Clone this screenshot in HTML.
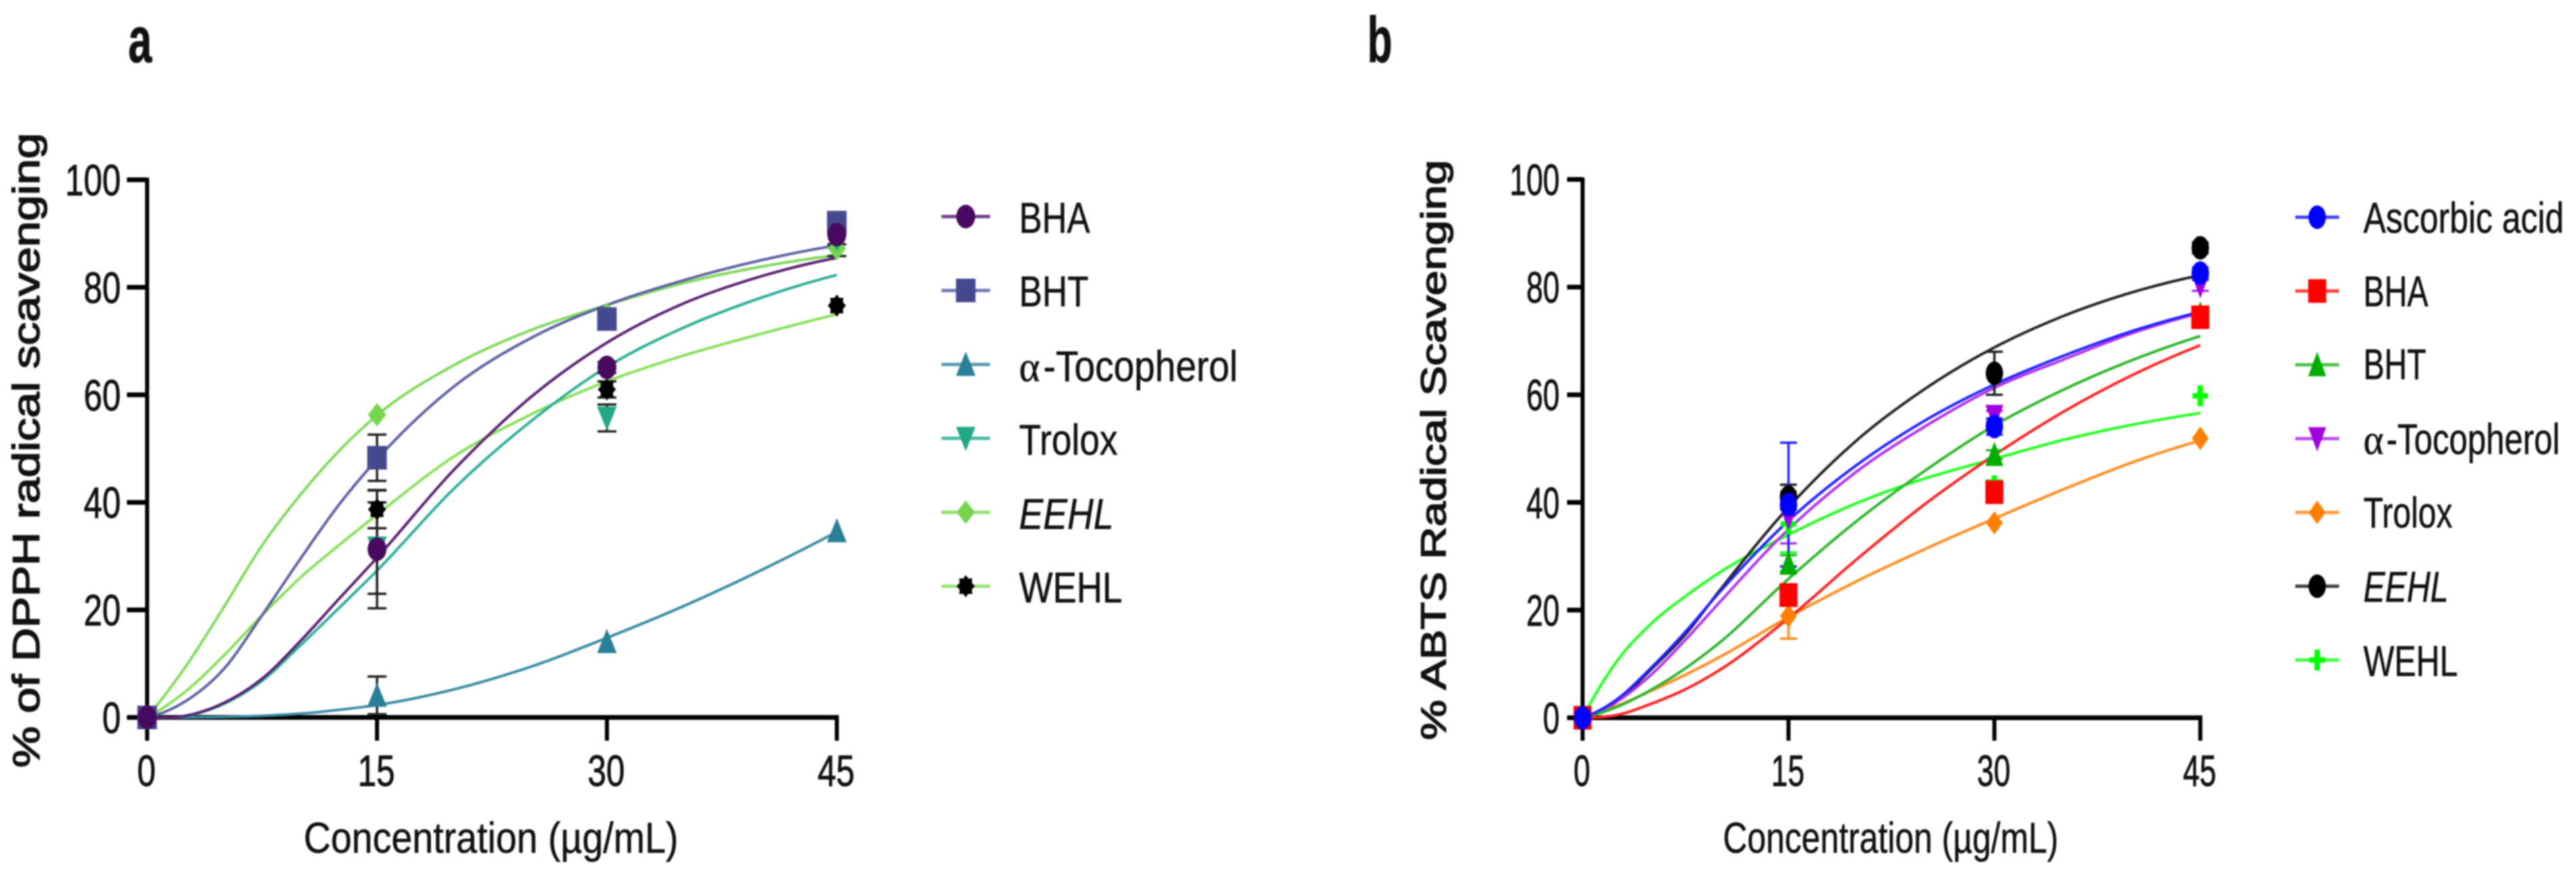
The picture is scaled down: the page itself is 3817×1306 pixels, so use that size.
<!DOCTYPE html>
<html lang="en">
<head>
<meta charset="utf-8">
<title>DPPH and ABTS radical scavenging charts</title>
<style>
html,body{margin:0;padding:0;background:#fff;width:3817px;height:1306px;overflow:hidden}
svg{display:block;filter:blur(1.1px)}
text{font-family:"Liberation Sans",sans-serif;fill:#111;stroke:#111;stroke-width:0.9px}
.legend-text,.axis-title{font-size:64px;stroke-width:0.6px}
.y-title{stroke-width:1.6px}
</style>
</head>
<body>
<svg id="chart" xmlns="http://www.w3.org/2000/svg" width="3817" height="1306" viewBox="0 0 3817 1306">
  <rect width="3817" height="1306" fill="#fff"/>
  <text x="190" y="92" font-size="96" font-weight="bold" textLength="35" lengthAdjust="spacingAndGlyphs">a</text>
  <text x="2026" y="92" font-size="96" font-weight="bold" textLength="37" lengthAdjust="spacingAndGlyphs">b</text>

  <text class="y-title" transform="translate(58,1138) rotate(-90)" font-size="56" textLength="941" lengthAdjust="spacingAndGlyphs">% of DPPH radical scavenging</text>
  <text class="axis-title" x="450" y="1264" textLength="555" lengthAdjust="spacingAndGlyphs">Concentration (µg/mL)</text>
  <text class="y-title" transform="translate(2142,1097) rotate(-90)" font-size="52" textLength="860" lengthAdjust="spacingAndGlyphs">% ABTS Radical Scavenging</text>
  <text class="axis-title" x="2553" y="1264" textLength="497" lengthAdjust="spacingAndGlyphs">Concentration (µg/mL)</text>

  <g id="panel-a"></g>
  <g id="panel-b"></g>

  <g id="legend-a">
    <text class="legend-text" x="1510" y="345" textLength="105" lengthAdjust="spacingAndGlyphs">BHA</text>
    <text class="legend-text" x="1510" y="454" textLength="103" lengthAdjust="spacingAndGlyphs">BHT</text>
    <text class="legend-text" x="1510" y="565" font-style="normal" style="font-family:'Liberation Serif',serif" textLength="31" lengthAdjust="spacingAndGlyphs">α</text>
    <text class="legend-text" x="1546" y="565" textLength="288" lengthAdjust="spacingAndGlyphs">-Tocopherol</text>
    <text class="legend-text" x="1510" y="674" textLength="146" lengthAdjust="spacingAndGlyphs">Trolox</text>
    <text class="legend-text" x="1510" y="784" font-style="italic" textLength="140" lengthAdjust="spacingAndGlyphs">EEHL</text>
    <text class="legend-text" x="1510" y="893" textLength="153" lengthAdjust="spacingAndGlyphs">WEHL</text>
  </g>
  <g id="legend-b">
    <text class="legend-text" x="3502" y="345" textLength="297" lengthAdjust="spacingAndGlyphs">Ascorbic acid</text>
    <text class="legend-text" x="3502" y="454" textLength="96" lengthAdjust="spacingAndGlyphs">BHA</text>
    <text class="legend-text" x="3502" y="562" textLength="93" lengthAdjust="spacingAndGlyphs">BHT</text>
    <text class="legend-text" x="3502" y="673" style="font-family:'Liberation Serif',serif" textLength="30" lengthAdjust="spacingAndGlyphs">α</text>
    <text class="legend-text" x="3536" y="673" textLength="257" lengthAdjust="spacingAndGlyphs">-Tocopherol</text>
    <text class="legend-text" x="3502" y="782" textLength="132" lengthAdjust="spacingAndGlyphs">Trolox</text>
    <text class="legend-text" x="3502" y="892" font-style="italic" textLength="126" lengthAdjust="spacingAndGlyphs">EEHL</text>
    <text class="legend-text" x="3502" y="1002" textLength="140" lengthAdjust="spacingAndGlyphs">WEHL</text>
  </g>
</svg>
<script>
// ---- shared axis data ----
const concentrationTicks = [0, 15, 30, 45];
const percentTicks = [0, 20, 40, 60, 80, 100];

// ---- panel a: fitted curve readings ----
const curveConcA = [0, 2.5, 5, 7.5, 10, 12.5, 15, 20, 25, 30, 35, 40, 45];
const bhaCurveA = [0, 0.3, 2.7, 7.2, 14.2, 22, 29.7, 46, 59.5, 69.7, 77, 82, 85.5];
const bhtCurveA = [0, 3, 9, 19, 29.5, 39.5, 48, 61.5, 70.5, 76.7, 81.3, 85, 87.8];
const tocCurveA = [0, 0, 0.1, 0.3, 0.7, 1.4, 2.3, 5.2, 9.4, 14.8, 20.7, 27.3, 34.5];
const troloxCurveA = [0, 0.2, 2.5, 6.8, 13.4, 20.3, 27.3, 42.5, 55, 65.2, 72.5, 78, 82.3];
const eehlCurveA = [0, 9.4, 20.5, 32, 41.4, 49.5, 56.2, 65.5, 72, 76.7, 80.8, 83.8, 86];
const wehlCurveA = [0, 4.8, 11.5, 19, 26, 32, 37.7, 48.5, 56.3, 62.5, 67.3, 71.3, 75];

// ---- panel a: measured points and error bars at concentrationTicks ----
const bhaPointsA = [0, 31.3, 65.1, 89.8];
const bhaErrorA = [0, 11, 1, 4];
const bhtPointsA = [0, 48.3, 74.1, 92];
const bhtErrorA = [0, 4.3, 1.5, 2];
const tocPointsA = [0, 4.1, 14.1, 34.7];
const tocErrorA = [0, 3.5, 0.5, 0.5];
const troloxPointsA = [0, 31.5, 55.7, 89];
const troloxErrorA = [0, 8.5, 2.5, 1];
const eehlPointsA = [0, 56.3, 75, 87.2];
const eehlErrorA = [0, 0.5, 0.5, 0.5];
const wehlPointsA = [0, 38.7, 61, 76.6];
const wehlErrorA = [0, 3.5, 1.5, 0.5];

// ---- panel b: fitted curve readings ----
const curveConcB = [0, 2.5, 5, 7.5, 10, 15, 20, 25, 30, 35, 40, 45];
const ascorbicCurveB = [0, 3.4, 9.3, 16, 23.4, 36.6, 47, 55.3, 61.9, 67.2, 71.8, 75.4];
const bhaCurveB = [0, 0.5, 2.6, 5.3, 8.9, 18.5, 29.5, 39.8, 48.8, 56.8, 63.6, 69.2];
const bhtCurveB = [0, 2, 5.2, 9.2, 14, 25.8, 36.6, 46, 54.3, 60.9, 66.4, 70.9];
const tocCurveB = [0, 3, 8, 14.5, 21.5, 35, 45.8, 54.2, 61.3, 66.5, 71.4, 75.2];
const troloxCurveB = [0, 2.2, 5, 8, 11.3, 18.7, 25.4, 31.4, 37, 42.4, 47.4, 51.5];
const eehlCurveB = [0, 3, 9, 15.5, 23.7, 39.1, 51.6, 61.2, 68.8, 74.6, 79, 82.2];
const wehlCurveB = [0, 10.5, 17.5, 22.6, 27, 34, 39.9, 44.5, 48.1, 51.6, 54.4, 56.6];

// ---- panel b: measured points and error bars ----
const ascorbicPointsB = [0, 39.6, 54.1, 82.6];
const ascorbicErrorB = [0, 11.5, 1.5, 1];
const bhaPointsB = [0, 22.8, 41.9, 74.4];
const bhaErrorB = [0, 2, 1.5, 1];
const bhtPointsB = [0, 28.7, 48.9, 75];
const bhtErrorB = [0, 1.5, 0.8, 1];
const tocPointsB = [0, 37.2, 56, 80.3];
const tocErrorB = [0, 4.8, 1, 1];
const troloxPointsB = [0, 18.9, 36.2, 51.9];
const troloxErrorB = [0, 4.2, 0.5, 0.5];
const eehlPointsB = [0, 41, 64, 87.3];
const eehlErrorB = [0, 2.3, 4, 1];
const wehlPointsB = [0, 36, 43.1, 59.8];
const wehlErrorB = [0, 5.3, 1, 0.5];

// ---- series definitions (legend order) ----
const seriesA = [
  {id:'bha', curve:bhaCurveA, points:bhaPointsA, error:bhaErrorA, line:'#5a1f73', fill:'#470a60', shape:'circle'},
  {id:'bht', curve:bhtCurveA, points:bhtPointsA, error:bhtErrorA, line:'#5c60a4', fill:'#454a8f', shape:'square'},
  {id:'tocopherol', curve:tocCurveA, points:tocPointsA, error:tocErrorA, line:'#3a8ca3', fill:'#2a7f97', shape:'up'},
  {id:'trolox', curve:troloxCurveA, points:troloxPointsA, error:troloxErrorA, line:'#2fae98', fill:'#22a884', shape:'down'},
  {id:'eehl', curve:eehlCurveA, points:eehlPointsA, error:eehlErrorA, line:'#7fd95c', fill:'#75d64e', shape:'diamond'},
  {id:'wehl', curve:wehlCurveA, points:wehlPointsA, error:wehlErrorA, line:'#86e05a', fill:'#000000', shape:'star'}
];
const seriesB = [
  {id:'ascorbic', curve:ascorbicCurveB, points:ascorbicPointsB, error:ascorbicErrorB, line:'#2222ff', fill:'#0000ff', shape:'circle'},
  {id:'bha', curve:bhaCurveB, points:bhaPointsB, error:bhaErrorB, line:'#ff2020', fill:'#ff0000', shape:'square'},
  {id:'bht', curve:bhtCurveB, points:bhtPointsB, error:bhtErrorB, line:'#2cb52c', fill:'#00ac00', shape:'up'},
  {id:'tocopherol', curve:tocCurveB, points:tocPointsB, error:tocErrorB, line:'#b030f0', fill:'#a000e0', shape:'down'},
  {id:'trolox', curve:troloxCurveB, points:troloxPointsB, error:troloxErrorB, line:'#ff8c20', fill:'#ff8000', shape:'diamond'},
  {id:'eehl', curve:eehlCurveB, points:eehlPointsB, error:eehlErrorB, line:'#222222', fill:'#000000', shape:'circle'},
  {id:'wehl', curve:wehlCurveB, points:wehlPointsB, error:wehlErrorB, line:'#20ff20', fill:'#00ff00', shape:'plus'}
];

const SVGNS = 'http://www.w3.org/2000/svg';
function make(tag, attrs, parent){
  const el = document.createElementNS(SVGNS, tag);
  for (const k in attrs) el.setAttribute(k, attrs[k]);
  parent.appendChild(el);
  return el;
}

// Smooth cubic path through pixel points, using parabolic (three-point) tangents
function smoothPath(px){
  const n = px.length, d = [], w = [], m = [];
  for (let i = 0; i < n - 1; i++){
    w.push(px[i+1][0]-px[i][0]);
    d.push((px[i+1][1]-px[i][1])/w[i]);
  }
  for (let i = 1; i < n - 1; i++) m[i] = (w[i-1]*d[i] + w[i]*d[i-1])/(w[i-1]+w[i]);
  m[0] = Math.min(0, d[0] + (d[0]-d[1])*w[0]/(w[0]+w[1]));
  m[n-1] = d[n-2] + (d[n-2]-d[n-3])*w[n-2]/(w[n-2]+w[n-3]);
  let s = 'M' + px[0][0].toFixed(1) + ' ' + px[0][1].toFixed(1);
  for (let i = 0; i < n - 1; i++){
    const h = w[i]/3;
    s += 'C' + (px[i][0]+h).toFixed(1) + ' ' + (px[i][1]+m[i]*h).toFixed(1) + ' ' +
         (px[i+1][0]-h).toFixed(1) + ' ' + (px[i+1][1]-m[i+1]*h).toFixed(1) + ' ' +
         px[i+1][0].toFixed(1) + ' ' + px[i+1][1].toFixed(1);
  }
  return s;
}

// Marker drawn around a centre point; k narrows markers horizontally for the narrower panel
function drawMarker(shape, cx, cy, color, k, parent){
  const w = 14.5*k, h = 17.5;
  if (shape === 'circle') return make('ellipse', {cx:cx, cy:cy, rx:14*k, ry:h, fill:color}, parent);
  if (shape === 'square') return make('rect', {x:cx-w, y:cy-h, width:2*w, height:2*h, fill:color}, parent);
  let pts;
  if (shape === 'up') pts = [[0,-19],[w,17],[-w,17]];
  else if (shape === 'down') pts = [[0,19],[w,-17],[-w,-17]];
  else if (shape === 'diamond') pts = [[0,-h],[13.5*k,0],[0,h],[-13.5*k,0]];
  else if (shape === 'plus'){
    const a = 4, b = 12.5*k, c = 15.5;
    pts = [[-a,-c],[a,-c],[a,-a],[b,-a],[b,a],[a,a],[a,c],[-a,c],[-a,a],[-b,a],[-b,-a],[-a,-a]];
  } else {
    pts = [];
    for (let i = 0; i < 16; i++){
      const t = i*Math.PI/8, r = i % 2 ? 0.74 : 1;
      pts.push([13.5*k*r*Math.sin(t), -16.5*r*Math.cos(t)]);
    }
  }
  return make('polygon', {points: pts.map(p => (cx+p[0]).toFixed(1)+','+(cy+p[1]).toFixed(1)).join(' '), fill:color}, parent);
}

function drawPanel(cfg){
  const root = document.getElementById(cfg.rootId);
  const sx = c => cfg.x0 + c*cfg.xUnit;
  const sy = v => cfg.y0 - v*cfg.yUnit;
  const tag = cfg.suffix;

  // axes
  const yAxis = make('line', {x1:sx(0), x2:sx(0), y1:sy(100)-3, y2:1098, stroke:'#000', 'stroke-width':6}, root);
  
  
  const xAxis = make('line', {x1:sx(0), x2:sx(45)+3, y1:sy(0), y2:sy(0), stroke:'#000', 'stroke-width':7}, root);
  
  

  percentTicks.forEach(v => {
    const tick = make('line', {x1:cfg.tickLeft, x2:sx(0), y1:sy(v), y2:sy(v), stroke:'#000', 'stroke-width':7}, root);
    
    
    const label = String(v);
    const t = make('text', {x:cfg.labelRight, y:sy(v)+23, 'text-anchor':'end', 'font-size':65, textLength:label.length*cfg.digit, lengthAdjust:'spacingAndGlyphs'}, root);
    t.textContent = label;
    
    
  });
  concentrationTicks.forEach(c => {
    const tick = make('line', {x1:sx(c), x2:sx(c), y1:sy(0), y2:1098, stroke:'#000', 'stroke-width':6}, root);
    
    
    const label = String(c);
    const t = make('text', {x:sx(c)-1, y:1165, 'text-anchor':'middle', 'font-size':65, textLength:label.length*cfg.digit, lengthAdjust:'spacingAndGlyphs'}, root);
    t.textContent = label;
    
    
  });

  const reversed = cfg.series.slice().reverse();

  // curves
  reversed.forEach(s => {
    const px = cfg.grid.map((c, i) => [sx(c), sy(s.curve[i])]);
    const p = make('path', {d:smoothPath(px), fill:'none', stroke:s.line, 'stroke-width':4}, root);
    
    
  });

  // error bars
  reversed.forEach(s => {
    concentrationTicks.forEach((c, i) => {
      if (!s.error[i] || s.error[i] < 0.8) return;
      const color = cfg.errorColor || s.line;
      const top = sy(s.points[i] + s.error[i]), bot = sy(s.points[i] - s.error[i]);
      const d = 'M' + sx(c) + ' ' + top + 'V' + bot +
        'M' + (sx(c)-cfg.cap) + ' ' + top + 'H' + (sx(c)+cfg.cap) +
        'M' + (sx(c)-cfg.cap) + ' ' + bot + 'H' + (sx(c)+cfg.cap);
      const e = make('path', {d:d, fill:'none', stroke:color, 'stroke-width':3.5}, root);
      
      
    });
  });

  // markers
  reversed.forEach(s => {
    concentrationTicks.forEach((c, i) => {
      const m = drawMarker(s.shape, sx(c), sy(s.points[i]), s.fill, cfg.markerK, root);
      
      
    });
  });

  // legend glyphs
  const legend = document.getElementById(cfg.legendId);
  cfg.series.forEach((s, i) => {
    const ly = cfg.legendTop + i*cfg.legendStep;
    const l = make('line', {x1:cfg.legendX1, x2:cfg.legendX2, y1:ly, y2:ly, stroke:s.line, 'stroke-width':5, 'stroke-opacity':0.85}, legend);
    
    
    const mk = drawMarker(s.shape, (cfg.legendX1+cfg.legendX2)/2, ly, s.fill, cfg.markerK, legend);
    
    
  });
}

drawPanel({rootId:'panel-a', legendId:'legend-a', suffix:'a', series:seriesA, grid:curveConcA,
  x0:218, xUnit:22.71, y0:1063.5, yUnit:7.97, tickLeft:188, labelRight:179, digit:27.5, cap:14,
  errorColor:'#222', markerK:1, legendTop:321, legendStep:109.6, legendX1:1395, legendX2:1467});
drawPanel({rootId:'panel-b', legendId:'legend-b', suffix:'b', series:seriesB, grid:curveConcB,
  x0:2345, xUnit:20.34, y0:1064, yUnit:7.98, tickLeft:2322, labelRight:2311, digit:24.7, cap:12.5,
  errorColor:null, markerK:0.92, legendTop:322, legendStep:109.4, legendX1:3401, legendX2:3466});
</script>
</body>
</html>
